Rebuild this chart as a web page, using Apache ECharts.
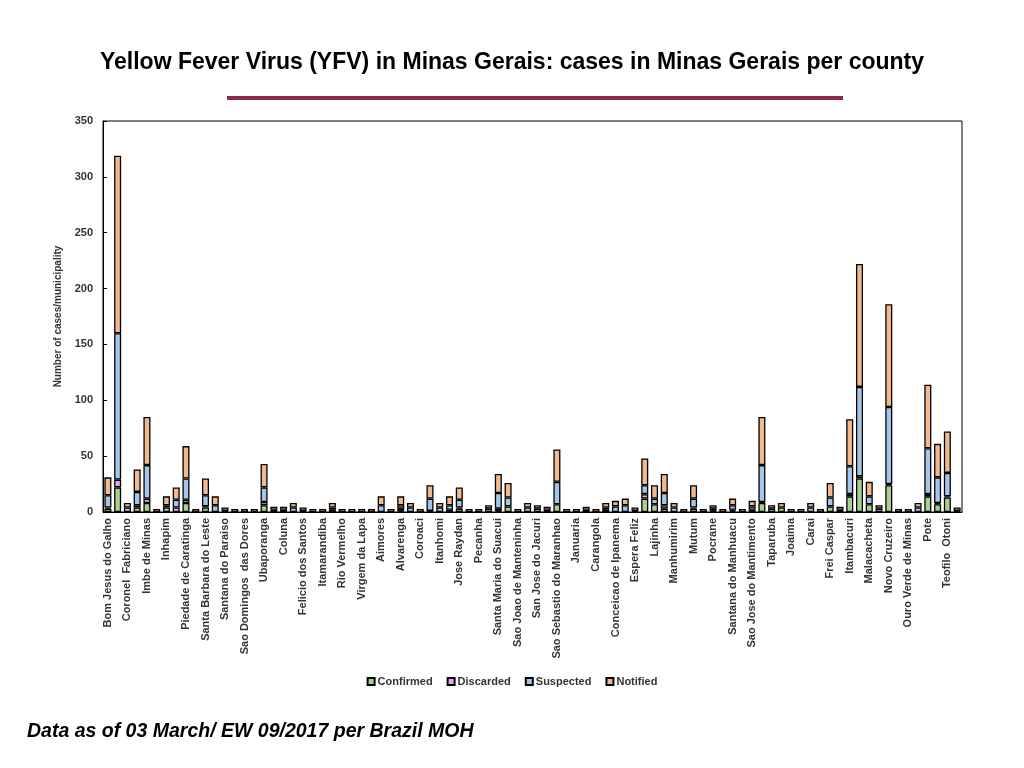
<!DOCTYPE html>
<html>
<head>
<meta charset="utf-8">
<script src="https://cdn.jsdelivr.net/npm/echarts@6/dist/echarts.min.js"></script>
<style>
html, body { margin: 0; padding: 0; background: #fff; }
#main { width: 1024px; height: 768px; }
</style>
</head>
<body>
<div id="main"></div>
<script>
"use strict";

// labelled counties (every other bar carries a label)
const labelled = [
    'Bom Jesus do Galho', 'Coronel  Fabriciano', 'Imbe de Minas', 'Inhapim', 'Piedade de Caratinga',
    'Santa Barbara do Leste', 'Santana do Paraiso', 'Sao Domingos  das Dores', 'Ubaporanga', 'Coluna',
    'Felicio dos Santos', 'Itamarandiba', 'Rio Vermelho', 'Virgem da Lapa', 'Aimores',
    'Alvarenga', 'Coroaci', 'Itanhomi', 'Jose Raydan', 'Pecanha',
    'Santa Maria do Suacui', 'Sao Joao de Manteninha', 'San Jose do Jacuri', 'Sao Sebastio do Maranhao', 'Januaria',
    'Carangola', 'Conceicao de Ipanema', 'Espera Feliz', 'Lajinha', 'Manhumirim',
    'Mutum', 'Pocrane', 'Santana do Manhuacu', 'Sao Jose do Mantimento', 'Taparuba',
    'Joaima', 'Carai', 'Frei Caspar', 'Itambacuri', 'Malacacheta',
    'Novo Cruzeiro', 'Ouro Verde de Minas', 'Pote', 'Teofilo  Otoni'
];

const confirmed = [
    3, 22, 0, 4, 8, 0, 4, 0, 8, 0, 4, 0, 0, 0, 0, 0, 6, 0, 2, 0, 1, 0, 0, 2, 0, 0, 0, 0, 0, 0,
    1, 0, 0, 0, 0, 2, 3, 0, 0, 0, 1, 5, 0, 0, 0, 0, 7, 0, 0, 0, 0, 2, 0, 0, 0, 12, 7, 3, 0, 0,
    3, 0, 0, 0, 1, 0, 2, 8, 0, 4, 0, 0, 0, 0, 5, 0, 14, 30, 7, 0, 24, 0, 0, 0, 14, 7, 13, 1
];
const discarded = [
    1, 7, 0, 2, 4, 0, 0, 4, 3, 0, 1, 0, 0, 0, 0, 0, 3, 0, 0, 0, 0, 0, 0, 0, 0, 0, 0, 0, 0, 0,
    2, 0, 0, 1, 0, 0, 1, 0, 0, 0, 2, 0, 0, 0, 0, 0, 0, 0, 0, 0, 0, 0, 0, 0, 0, 4, 0, 3, 0, 0,
    1, 0, 1, 0, 1, 0, 0, 1, 0, 0, 0, 0, 0, 0, 0, 0, 2, 2, 0, 0, 1, 0, 0, 0, 2, 1, 1, 0
];
const suspected = [
    11, 131, 4, 12, 30, 0, 2, 7, 19, 0, 10, 6, 1, 0, 0, 0, 13, 2, 0, 4, 0, 0, 0, 2, 0, 0, 0, 0, 6, 0,
    3, 4, 0, 11, 4, 4, 7, 0, 0, 3, 14, 8, 0, 4, 3, 2, 20, 0, 0, 2, 0, 2, 5, 6, 1, 8, 5, 11, 4, 0,
    8, 0, 2, 0, 4, 0, 3, 33, 3, 0, 0, 0, 4, 0, 8, 2, 25, 80, 7, 3, 69, 0, 0, 4, 41, 23, 21, 0
];
const notified = [
    16, 159, 4, 20, 43, 1, 8, 11, 29, 1, 15, 8, 3, 1, 1, 1, 21, 2, 2, 4, 3, 1, 1, 4, 1, 1, 1, 1, 8, 1,
    8, 4, 1, 12, 4, 8, 11, 1, 1, 3, 17, 13, 1, 4, 3, 2, 29, 1, 1, 2, 1, 4, 5, 6, 3, 24, 12, 17, 4, 1,
    12, 1, 3, 1, 6, 1, 5, 43, 3, 4, 1, 1, 4, 1, 13, 2, 42, 110, 13, 3, 92, 1, 1, 4, 57, 30, 37, 3
];

const yTicks = [0, 50, 100, 150, 200, 250, 300, 350];

// 88 bars, odd ones unlabeled
const categories = [];
for (let i = 0; i < labelled.length * 2; i++) {
    categories.push(i % 2 === 0 ? labelled[i / 2] : '');
}

const chart = echarts.init(document.getElementById('main'));

// zero segments are skipped so their borders don't pile up
const barSeries = (name, color, data) => ({
    name: name,
    type: 'bar',
    stack: 'all',
    barWidth: '72%',
    data: data.map(v => v === 0 ? '-' : v),
    itemStyle: { color: color, borderColor: '#000', borderWidth: 1.3 }
});

const option = {
    animation: false,
    title: {
        text: 'Yellow Fever Virus (YFV) in Minas Gerais: cases in Minas Gerais per county',
        left: 'center',
        top: 46,
        textStyle: { fontFamily: 'Liberation Sans', fontSize: 23, fontWeight: 'bold', color: '#000' }
    },
    graphic: [{
        type: 'rect',
        shape: { x: 227, y: 96, width: 616, height: 4 },
        style: { fill: '#8b2a4f' }
    }, {
        type: 'text',
        left: 27,
        top: 722,
        style: {
            text: 'Data as of 03 March/ EW 09/2017 per Brazil MOH',
            font: 'italic bold 19.5px "Liberation Sans"',
            fill: '#000'
        }
    }],
    legend: {
        bottom: 76,
        left: 'center',
        itemWidth: 7,
        itemHeight: 7,
        itemGap: 14,
        icon: 'rect',
        textStyle: { fontFamily: 'Liberation Sans', fontSize: 11, fontWeight: 'bold', color: '#333', padding: [0, 0, 0, -2] },
        data: ['Confirmed', 'Discarded', 'Suspected', 'Notified']
    },
    grid: {
        left: 103, right: 62, top: 121, bottom: 256,
        show: true, borderColor: '#000', borderWidth: 1
    },
    xAxis: {
        type: 'category',
        data: categories,
        axisLine: { lineStyle: { color: '#000' } },
        axisTick: { show: false },
        axisLabel: {
            interval: 0, rotate: 90, margin: 6,
            fontFamily: 'Liberation Sans', fontSize: 11, fontWeight: 'bold', color: '#333'
        }
    },
    yAxis: {
        type: 'value',
        min: yTicks[0],
        max: yTicks[yTicks.length - 1],
        interval: 50,
        name: 'Number of cases/municipality',
        nameLocation: 'middle',
        nameGap: 38,
        nameTextStyle: { fontFamily: 'Liberation Sans', fontSize: 10, fontWeight: 'bold', color: '#333' },
        axisLine: { show: true, lineStyle: { color: '#000' } },
        axisTick: { show: true, inside: true, length: 4, lineStyle: { color: '#000' } },
        splitLine: { show: false },
        axisLabel: { fontFamily: 'Liberation Sans', fontSize: 11, fontWeight: 'bold', color: '#333', margin: 10 }
    },
    series: [
        barSeries('Confirmed', '#a9d18e', confirmed),
        barSeries('Discarded', '#e6a8e6', discarded),
        barSeries('Suspected', '#a6c5ea', suspected),
        Object.assign(barSeries('Notified', '#f2b98c', notified), { barMinHeight: 3 })
    ]
};
chart.setOption(option);
</script>
</body>
</html>
